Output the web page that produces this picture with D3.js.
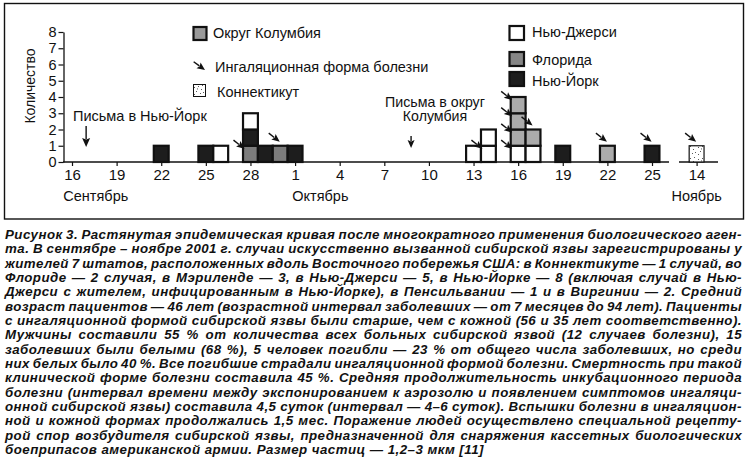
<!DOCTYPE html>
<html><head><meta charset="utf-8">
<script src="https://cdn.jsdelivr.net/npm/d3@7"></script>
<style>
body{margin:0;background:#fff}
svg{display:block}
text{font-family:"Liberation Sans",Arial,Helvetica,sans-serif;fill:#111}
</style>
</head><body>
<svg id="c" width="747" height="464"></svg>
<script>
// ---------- data ----------
// day offsets from 16 September 2001; the axis is broken after 25 Oct, 14 Nov sits at offset 59
const tickDays   = [0,3,6,9,12,15,18,21,24,27,30,33,36,39,59];
const tickLabels = ["16","19","22","25","28","1","4","7","10","13","16","19","22","25","14"];
const monthLabels = ["Сентябрь","Октябрь","Ноябрь"];
const monthDays   = [1.6, 16.7, 59];
const yTicks = [0,1,2,3,4,5,6,7,8];

// one entry per case, stacked bottom-up in array order within a day
const caseDay   = [6, 9, 10, 12, 12, 12, 13, 14, 15, 27, 28, 28, 30, 30, 30, 30, 31, 31, 33, 36, 39, 59];
const caseState = ["NY","NY","NJ","FL","NY","NJ","NY","FL","NY","NJ","NJ","NJ","NJ","DC","DC","DC","NJ","DC","NY","DC","NY","CT"];
const caseInhal = ["","","","side","","","","top","","","side","","side","side","side","side","","top","","top","top","top"];

const letterLabels = [["Письма в Нью-Йорк"],["Письма в округ","Колумбия"]];
const letterDays   = [0.95, 22.8];

const legendLeft  = ["Округ Колумбия","Ингаляционная форма болезни","Коннектикут"];
const legendRight = ["Нью-Джерси","Флорида","Нью-Йорк"];

const captionLines = [
"Рисунок 3. Растянутая эпидемическая кривая после многократного применения биологического аген-",
"та. В сентябре – ноябре 2001 г. случаи искусственно вызванной сибирской язвы зарегистрированы у",
"жителей 7 штатов, расположенных вдоль Восточного побережья США: в Коннектикуте — 1 случай, во",
"Флориде — 2 случая, в Мэриленде — 3, в Нью-Джерси — 5, в Нью-Йорке — 8 (включая случай в Нью-",
"Джерси с жителем, инфицированным в Нью-Йорке), в Пенсильвании — 1 и в Виргинии — 2. Средний",
"возраст пациентов — 46 лет (возрастной интервал заболевших — от 7 месяцев до 94 лет). Пациенты",
"с ингаляционной формой сибирской язвы были старше, чем с кожной (56 и 35 лет соответственно).",
"Мужчины составили 55 % от количества всех больных сибирской язвой (12 случаев болезни), 15",
"заболевших были белыми (68 %), 5 человек погибли — 23 % от общего числа заболевших, но среди",
"них белых было 40 %. Все погибшие страдали ингаляционной формой болезни. Смертность при такой",
"клинической форме болезни составила 45 %. Средняя продолжительность инкубационного периода",
"болезни (интервал времени между экспонированием к аэрозолю и появлением симптомов ингаляци-",
"онной сибирской язвы) составила 4,5 суток (интервал — 4–6 суток). Вспышки болезни в ингаляцион-",
"ной и кожной формах продолжались 1,5 мес. Поражение людей осуществлено специальной рецепту-",
"рой спор возбудителя сибирской язвы, предназначенной для снаряжения кассетных биологических",
"боеприпасов американской армии. Размер частиц — 1,2–3 мкм [11]"
];

// ---------- setup ----------
const svg = d3.select("#c");
const fills = {NJ:"#ffffff", FL:"#7c7c7c", DC:"#ababab", NY:"#1d1d1d", CT:"url(#dots)"};

const defs = svg.append("defs");
const pat = defs.append("pattern").attr("id","dots").attr("patternUnits","userSpaceOnUse")
  .attr("width",12).attr("height",12);
pat.append("rect").attr("width",12).attr("height",12).attr("fill","#fff");
[[2,3],[6,2],[9,5],[4,7],[8,9],[2,10],[10,1],[5,4.5],[11,8]].forEach(p=>
  pat.append("rect").attr("x",p[0]).attr("y",p[1]).attr("width",0.9).attr("height",0.9).attr("fill","#333"));

// frame
svg.append("rect").attr("x",4.5).attr("y",3.5).attr("width",739).attr("height",215.5)
  .attr("fill","none").attr("stroke","#111").attr("stroke-width",1.4);

const x = d3.scaleLinear().domain([0,39,59]).range([72,652,696.6]);
const y = d3.scaleLinear().domain([0,8]).range([162,32]);
const dayW = x(1)-x(0);

// ---------- axes ----------
const gx = svg.append("g").attr("transform",`translate(0,${y(0)})`)
  .call(d3.axisBottom(x).tickValues(tickDays).tickFormat((d,i)=>tickLabels[i]).tickSize(4).tickSizeOuter(0));
gx.select(".domain").remove();
gx.selectAll(".tick line").attr("stroke","#111").attr("stroke-width",1.2);
gx.selectAll(".tick text").attr("font-size",15).attr("y",7).attr("dy","0.71em").attr("fill","#111");
// broken axis line
gx.append("line").attr("x1",63).attr("x2",669).attr("stroke","#111").attr("stroke-width",1.4);
gx.append("line").attr("x1",679).attr("x2",718).attr("stroke","#111").attr("stroke-width",1.4);

const gy = svg.append("g").attr("transform","translate(63.5,0)")
  .call(d3.axisLeft(y).tickValues(yTicks).tickSize(5).tickSizeOuter(0));
gy.select(".domain").attr("stroke","#111").attr("stroke-width",1.3);
gy.selectAll(".tick line").attr("stroke","#111").attr("stroke-width",1.2);
gy.selectAll(".tick text").attr("font-size",14.5).attr("x",-7).attr("fill","#111");

svg.append("text").attr("transform","translate(35,86) rotate(-90)")
  .attr("text-anchor","middle").attr("font-size",14).text("Количество");

svg.selectAll("text.month").data(monthLabels).join("text").attr("class","month")
  .attr("x",(d,i)=>x(monthDays[i])).attr("y",201).attr("text-anchor","middle")
  .attr("font-size",14.5).text(d=>d);

// ---------- bars ----------
const counter = {};
const cases = caseDay.map((d,i)=>{
  const level = counter[d] || 0; counter[d] = level+1;
  return {day:d, state:caseState[i], inhal:caseInhal[i], level};
});

svg.append("g").selectAll("rect").data(cases).join("rect")
  .attr("x",d=>x(d.day)-dayW/2).attr("y",d=>y(d.level+1))
  .attr("width",dayW).attr("height",y(0)-y(1))
  .attr("fill",d=>fills[d.state]).attr("stroke","#111")
  .attr("stroke-width",d=>d.state==="CT"?1.2:2.2);

// arrow helper: tip at (tx,ty), pointing along angle (radians) toward tip
function arrow(g, tx, ty, ang, len, hl, hw){
  const ux=Math.cos(ang), uy=Math.sin(ang);
  const bx=tx-ux*hl, by=ty-uy*hl;
  g.append("line").attr("x1",tx-ux*len).attr("y1",ty-uy*len).attr("x2",bx+ux*1).attr("y2",by+uy*1)
    .attr("stroke","#111").attr("stroke-width",1.4);
  const px=-uy, py=ux;
  g.append("path").attr("d",`M${tx},${ty}L${bx+px*hw/2},${by+py*hw/2}L${bx+ux*1.5},${by+uy*1.5}L${bx-px*hw/2},${by-py*hw/2}Z`)
    .attr("fill","#111");
}

const ga = svg.append("g");
cases.filter(d=>d.inhal).forEach(d=>{
  const left = x(d.day)-dayW/2, top = y(d.level+1);
  const ang = 38*Math.PI/180;
  if (d.inhal==="side") arrow(ga, left+1.5, top+3, ang, 14, 8, 7);
  else arrow(ga, left+7, top-4, ang, 14, 8, 7);
});

// ---------- letter annotations ----------
const gl = svg.append("g");
gl.append("text").attr("x",x(0)+1).attr("y",121).attr("font-size",14.5).text(letterLabels[0][0]);
arrow(gl, x(letterDays[0]), 147, Math.PI/2, 21, 9, 8);
letterLabels[1].forEach((t,i)=>gl.append("text").attr("x",435).attr("y",106.5+i*14.5)
  .attr("text-anchor","middle").attr("font-size",14.2).text(t));
arrow(gl, x(letterDays[1]), 148, Math.PI/2, 12, 8, 7);

// ---------- legend ----------
const lg = svg.append("g");
lg.append("rect").attr("x",193.5).attr("y",27).attr("width",13).attr("height",13)
  .attr("fill","#9a9a9a").attr("stroke","#111").attr("stroke-width",2.2);
lg.append("text").attr("x",213).attr("y",38).attr("font-size",14.5).text(legendLeft[0]);
arrow(lg, 205, 70, 36*Math.PI/180, 14, 8, 7);
lg.append("text").attr("x",215).attr("y",72).attr("font-size",14.5).text(legendLeft[1]);
lg.append("rect").attr("x",193.5).attr("y",84.5).attr("width",12).attr("height",12)
  .attr("fill","url(#dots)").attr("stroke","#111").attr("stroke-width",1);
lg.append("text").attr("x",217).attr("y",96.5).attr("font-size",14.5).text(legendLeft[2]);

const rFill = [fills.NJ,"#868686",fills.NY];
const rY = [26,52,72];
const rTextY = [37,65,86];
legendRight.forEach((t,i)=>{
  lg.append("rect").attr("x",509.5).attr("y",rY[i]).attr("width",14.5).attr("height",14)
    .attr("fill",rFill[i]).attr("stroke","#111").attr("stroke-width",2.2);
  lg.append("text").attr("x",532).attr("y",rTextY[i]).attr("font-size",14.5).text(t);
});

// ---------- caption (justified) ----------
const cap = svg.append("g");
const left = 5, right = 742, capW = right-left;
const capText = captionLines.map((t,i)=>cap.append("text").attr("x",left).attr("y",239+i*14.33)
    .attr("font-size",13.3).attr("font-weight","bold").attr("font-style","italic")
    .attr("fill","#151515").text(t));
// shared letter-spacing derived from the full lines, then per-line word-spacing
let lsSum = 0, lsN = 0;
capText.forEach((tx,i)=>{
  if (i===captionLines.length-1) return;
  const w = tx.node().getComputedTextLength();
  lsSum += (capW - w) / captionLines[i].length; lsN++;
});
const ls = Math.max(0, 0.93*lsSum/lsN);
capText.forEach((tx,i)=>{
  tx.attr("letter-spacing",ls);
  if (i < captionLines.length-1){
    const w = tx.node().getComputedTextLength();
    const n = (captionLines[i].match(/ /g)||[]).length;
    if (n>0) tx.attr("word-spacing",(capW - w)/n);
  }
});
</script>
</body></html>
